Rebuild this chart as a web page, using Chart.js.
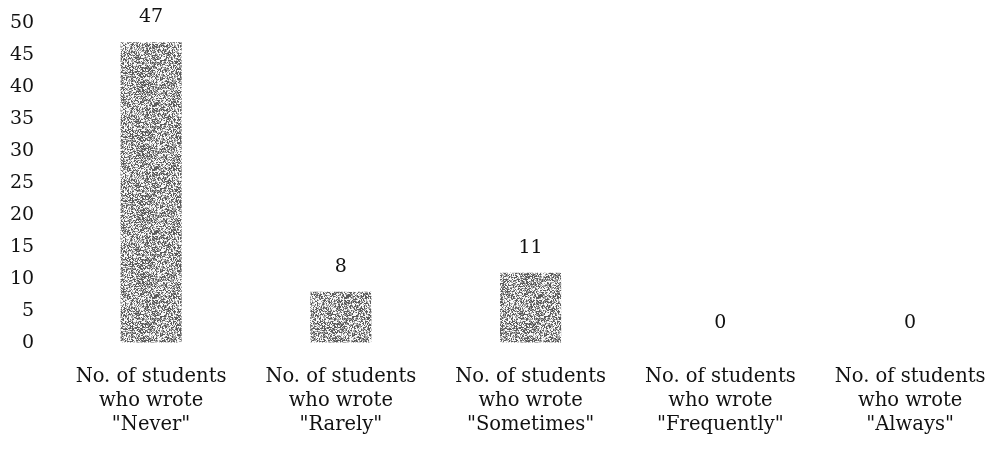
<!DOCTYPE html>
<html>
<head>
<meta charset="utf-8">
<script src="https://cdn.jsdelivr.net/npm/chart.js@4/dist/chart.umd.min.js"></script>
<style>
  html, body { margin: 0; padding: 0; background: #fff; overflow: hidden; }
  #wrap { width: 1008px; height: 450px; position: relative; }
</style>
</head>
<body>
<div id="wrap"><canvas id="c"></canvas></div>
<script>
const categories = [
  ["No. of students", "who wrote", "\"Never\""],
  ["No. of students", "who wrote", "\"Rarely\""],
  ["No. of students", "who wrote", "\"Sometimes\""],
  ["No. of students", "who wrote", "\"Frequently\""],
  ["No. of students", "who wrote", "\"Always\""]
];
const studentCounts = [47, 8, 11, 0, 0];
const yTicks = [0, 5, 10, 15, 20, 25, 30, 35, 40, 45, 50];

const FONT = "'DejaVu Serif', 'Liberation Serif', serif";

// deterministic stipple pattern (style only)
function makeStipple() {
  const size = 64;
  const pc = document.createElement('canvas');
  pc.width = size; pc.height = size;
  const pctx = pc.getContext('2d');
  const img = pctx.createImageData(size, size);
  let s = 12345;
  for (let i = 0; i < size * size; i++) {
    s = (s * 1103515245 + 12345) & 0x7fffffff;
    const r = (s >> 8) % 100;
    let v;
    if (r < 33) v = 90; else if (r < 63) v = 165; else v = 248;
    img.data[i * 4] = v; img.data[i * 4 + 1] = v; img.data[i * 4 + 2] = v; img.data[i * 4 + 3] = 255;
  }
  pctx.putImageData(img, 0, 0);
  return pctx.createPattern(pc, 'repeat');
}

const valueLabels = {
  id: 'valueLabels',
  afterDatasetsDraw(chart) {
    const ctx = chart.ctx;
    const meta = chart.getDatasetMeta(0);
    ctx.save();
    ctx.font = "19px " + FONT;
    ctx.fillStyle = '#111';
    ctx.textAlign = 'center';
    ctx.textBaseline = 'middle';
    meta.data.forEach((bar, i) => {
      ctx.fillText(String(studentCounts[i]), bar.x, bar.y - (studentCounts[i] === 0 ? 20 : 25));
    });
    ctx.restore();
  }
};

const ctx = document.getElementById('c').getContext('2d');
new Chart(ctx, {
  type: 'bar',
  data: {
    labels: categories,
    datasets: [{
      data: studentCounts,
      backgroundColor: makeStipple(),
      borderWidth: 0,
      categoryPercentage: 1.0,
      barPercentage: 0.322
    }]
  },
  options: {
    responsive: true,
    maintainAspectRatio: false,
    animation: false,
    layout: { padding: { top: 23, right: 3, left: 8, bottom: 11 } },
    plugins: { legend: { display: false }, tooltip: { enabled: false } },
    scales: {
      x: {
        grid: { display: true, drawOnChartArea: false, drawTicks: true, tickLength: 20, color: 'rgba(0,0,0,0)' },
        border: { display: false },
        ticks: {
          color: '#111',
          font: { family: FONT, size: 19.5, lineHeight: 1.23 },
          padding: 2,
          maxRotation: 0,
          autoSkip: false
        }
      },
      y: {
        min: 0,
        max: 50,
        afterBuildTicks(axis) { axis.ticks = yTicks.map(v => ({ value: v })); },
        grid: { display: true, drawOnChartArea: false, drawTicks: true, tickLength: 20, color: 'rgba(0,0,0,0)' },
        border: { display: false },
        ticks: {
          color: '#111',
          font: { family: FONT, size: 19 },
          padding: 2
        }
      }
    }
  },
  plugins: [valueLabels]
});
</script>
</body>
</html>
